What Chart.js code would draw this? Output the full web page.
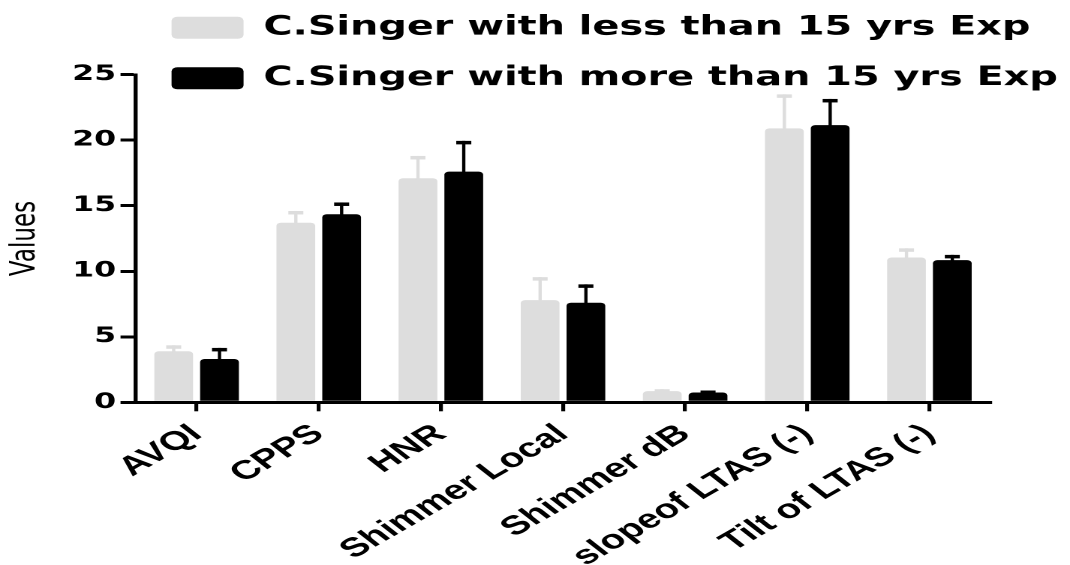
<!DOCTYPE html>
<html>
<head>
<meta charset="utf-8">
<script src="https://cdn.jsdelivr.net/npm/chart.js@4.4.1/dist/chart.umd.min.js"></script>
<style>
  html, body { margin: 0; padding: 0; background: #ffffff; overflow: hidden; }
  #wrap { position: absolute; left: 0; top: 0; width: 713px; height: 565px;
          transform: scaleX(1.5007); transform-origin: 0 0; }
</style>
</head>
<body>
<div id="wrap"><canvas id="c" width="713" height="565"></canvas></div>
<script>
const categories = ['AVQI', 'CPPS', 'HNR', 'Shimmer Local', 'Shimmer dB', 'slopeof LTAS (-)', 'Tilt of LTAS (-)'];
const seriesNames = ['C.Singer with less than 15 yrs Exp', 'C.Singer with more than 15 yrs Exp'];
const lessValues = [3.9, 13.7, 17.1, 7.8, 0.85, 20.9, 11.05];
const lessErrors = [0.45, 0.9, 1.7, 1.75, 0.15, 2.6, 0.7];
const moreValues = [3.3, 14.35, 17.6, 7.6, 0.75, 21.15, 10.85];
const moreErrors = [0.85, 0.9, 2.35, 1.4, 0.15, 2.0, 0.4];
const yTicks = [0, 5, 10, 15, 20, 25];

const GRAY = '#dddddd';
const BLACK = '#000000';

const errorBarPlugin = {
  id: 'errorBars',
  afterDatasetsDraw(chart) {
    const ctx = chart.ctx;
    const yScale = chart.scales.y;
    chart.data.datasets.forEach((ds, i) => {
      const meta = chart.getDatasetMeta(i);
      ctx.save();
      ctx.fillStyle = ds.backgroundColor;
      meta.data.forEach((bar, j) => {
        const top = yScale.getPixelForValue(ds.data[j] + ds.errors[j]);
        const base = bar.y;
        ctx.fillRect(bar.x - 1.1, top, 2.2, base - top + 1);
        ctx.fillRect(bar.x - 5, top, 10, 3.5);
      });
      ctx.restore();
    });
  }
};

// Let the legend overhang the plot area (as in the reference) without being clipped.
const legendBoxPlugin = {
  id: 'legendBox',
  afterLayout(chart) {
    const lg = chart.legend;
    if (!lg) return;
    lg.right = chart.width;
    lg.width = lg.right - lg.left;
    lg.bottom = lg.top + 130;
    lg.height = 130;
  }
};

new Chart(document.getElementById('c'), {
  type: 'bar',
  data: {
    labels: categories,
    datasets: [
      { label: seriesNames[0], data: lessValues, errors: lessErrors, backgroundColor: GRAY,
        borderWidth: 0, borderRadius: {topLeft: 3, topRight: 3}, borderSkipped: 'bottom' },
      { label: seriesNames[1], data: moreValues, errors: moreErrors, backgroundColor: BLACK,
        borderWidth: 0, borderRadius: {topLeft: 3, topRight: 3}, borderSkipped: 'bottom' }
    ]
  },
  options: {
    responsive: false,
    devicePixelRatio: 2,
    animation: false,
    datasets: { bar: { categoryPercentage: 0.75, barPercentage: 0.846 } },
    layout: { padding: { top: -9.5, right: 53, bottom: 0, left: 0 } },
    plugins: {
      tooltip: { enabled: false },
      legend: {
        position: 'top',
        align: 'start',
        fullSize: false,
        maxHeight: 84.2,
        labels: {
          color: '#000',
          font: { family: 'DejaVu Sans', weight: 'bold', size: 26.5 },
          boxWidth: 48,
          boxHeight: 22,
          padding: 24,
          useBorderRadius: true,
          borderRadius: 4
        }
      }
    },
    scales: {
      x: {
        afterFit(scale) { scale.height = 162.7; },
        border: { display: true, color: '#000', width: 3 },
        grid: { display: true, drawOnChartArea: false, drawTicks: true, offset: false,
                tickLength: 9, color: '#000', lineWidth: 2.6 },
        ticks: {
          color: '#000', autoSkip: false, minRotation: 40.5, maxRotation: 40.5, padding: 7,
          font: { family: 'Liberation Sans', weight: 'bold', size: 26.5 }
        }
      },
      y: {
        min: 0, max: 25,
        afterFit(scale) { scale.width = 90.3; },
        afterBuildTicks(scale) { scale.ticks = yTicks.map(v => ({ value: v })); },
        border: { display: true, color: '#000', width: 2.7 },
        grid: { display: true, drawOnChartArea: false, drawTicks: true,
                tickLength: 10, color: '#000', lineWidth: 3 },
        ticks: {
          color: '#000', padding: 3,
          font: { family: 'DejaVu Sans', weight: 'bold', size: 21 }
        },
        title: {
          display: true, text: 'Values', color: '#000', padding: { top: 3, bottom: 2 },
          font: { family: 'DejaVu Sans', weight: 'normal', size: 23 }
        }
      }
    }
  },
  plugins: [errorBarPlugin, legendBoxPlugin]
});
</script>
</body>
</html>
